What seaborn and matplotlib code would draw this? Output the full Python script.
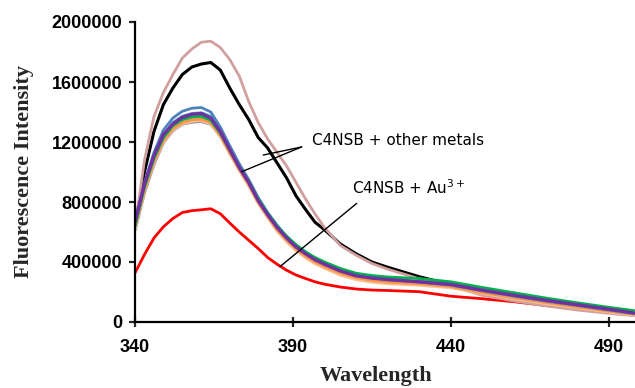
import numpy as np
import pandas as pd
import matplotlib
matplotlib.use("Agg")
import matplotlib.pyplot as plt
import seaborn as sns

wavelength = [340, 343, 346, 349, 352, 355, 358, 361, 364, 367, 370, 373, 376, 379, 382,
              385, 388, 391, 394, 397, 400, 405, 410, 415, 420, 430, 440, 450, 460, 470,
              480, 490, 498]

red_au = [327000, 450000, 560000, 635000, 690000, 730000, 742000, 748000, 755000, 722000,
          660000, 600000, 545000, 490000, 430000, 385000, 345000, 313000, 290000, 268000,
          252000, 233000, 220000, 213000, 210000, 202000, 172000, 155000, 135000, 110000,
          88000, 65000, 48000]

black_c4nsb = [640000, 1000000, 1270000, 1450000, 1560000, 1650000, 1700000, 1720000, 1730000,
               1680000, 1560000, 1450000, 1350000, 1230000, 1160000, 1060000, 960000, 840000,
               750000, 665000, 615000, 520000, 455000, 400000, 365000, 302000, 248000, 205000,
               165000, 128000, 98000, 70000, 52000]

pink_ref = [627000, 1080000, 1370000, 1530000, 1650000, 1760000, 1820000, 1865000, 1872000,
            1830000, 1750000, 1640000, 1470000, 1330000, 1220000, 1130000, 1040000, 930000,
            820000, 720000, 630000, 510000, 445000, 390000, 352000, 288000, 238000, 178000,
            140000, 108000, 80000, 58000, 42000]

lavender = [610000, 860000, 1050000, 1195000, 1275000, 1318000, 1332000, 1336000, 1318000,
            1240000, 1128000, 1018000, 915000, 798000, 702000, 618000, 550000, 492000, 447000,
            408000, 378000, 334000, 303000, 288000, 278000, 263000, 244000, 205000, 170000,
            137000, 107000, 77000, 54000]

olive = [625000, 875000, 1068000, 1210000, 1288000, 1325000, 1340000, 1345000, 1326000,
         1245000, 1132000, 1022000, 920000, 803000, 707000, 622000, 553000, 494000, 450000,
         410000, 380000, 336000, 305000, 290000, 280000, 265000, 247000, 209000, 174000,
         141000, 111000, 81000, 57000]

tan = [620000, 870000, 1060000, 1200000, 1280000, 1320000, 1338000, 1342000, 1320000,
       1235000, 1120000, 1010000, 905000, 790000, 695000, 605000, 535000, 475000, 428000,
       388000, 358000, 312000, 282000, 265000, 255000, 245000, 228000, 190000, 155000,
       122000, 94000, 66000, 46000]

gray = [640000, 895000, 1085000, 1228000, 1305000, 1345000, 1362000, 1365000, 1342000,
        1258000, 1142000, 1030000, 927000, 810000, 713000, 628000, 557000, 498000, 452000,
        412000, 382000, 338000, 306000, 290000, 279000, 264000, 245000, 206000, 171000,
        138000, 108000, 78000, 55000]

teal = [655000, 910000, 1100000, 1245000, 1330000, 1372000, 1390000, 1395000, 1372000,
        1285000, 1165000, 1045000, 940000, 822000, 722000, 638000, 566000, 505000, 458000,
        418000, 387000, 343000, 312000, 296000, 286000, 271000, 252000, 213000, 178000,
        145000, 114000, 84000, 60000]

orange = [630000, 880000, 1070000, 1210000, 1290000, 1330000, 1348000, 1352000, 1330000,
          1245000, 1130000, 1020000, 920000, 800000, 705000, 615000, 545000, 487000, 440000,
          400000, 370000, 325000, 295000, 278000, 266000, 255000, 236000, 196000, 162000,
          130000, 100000, 72000, 52000]

blue = [650000, 930000, 1130000, 1280000, 1360000, 1405000, 1425000, 1430000, 1400000,
        1300000, 1175000, 1055000, 950000, 830000, 730000, 645000, 570000, 510000, 462000,
        420000, 388000, 342000, 310000, 294000, 283000, 266000, 246000, 208000, 173000,
        140000, 110000, 80000, 56000]

green = [640000, 900000, 1090000, 1230000, 1310000, 1350000, 1368000, 1372000, 1345000,
         1260000, 1145000, 1035000, 935000, 820000, 725000, 640000, 572000, 515000, 468000,
         430000, 400000, 357000, 325000, 310000, 300000, 290000, 268000, 230000, 195000,
         160000, 128000, 98000, 76000]

purple = [667000, 920000, 1110000, 1250000, 1320000, 1365000, 1385000, 1390000, 1360000,
          1270000, 1150000, 1030000, 930000, 810000, 715000, 630000, 560000, 500000, 455000,
          415000, 385000, 340000, 308000, 293000, 283000, 268000, 250000, 212000, 178000,
          145000, 115000, 85000, 60000]

series = {
    "red": red_au, "black": black_c4nsb, "pink": pink_ref,
    "lavender": lavender, "olive": olive, "tan": tan, "gray": gray, "teal": teal,
    "orange": orange, "blue": blue, "green": green, "purple": purple,
}
palette = {
    "red": "#FF0000", "black": "#000000", "pink": "#D1A09E",
    "lavender": "#8C7BB5", "olive": "#9BBB59", "tan": "#FAC090", "gray": "#A5A5A5",
    "teal": "#4BACC6", "orange": "#F79646", "blue": "#4F81BD", "green": "#00B050",
    "purple": "#7030A0",
}

frames = [pd.DataFrame({"wl": wavelength, "val": v, "series": k}) for k, v in series.items()]
df = pd.concat(frames, ignore_index=True)

sns.set_theme(style="white")
plt.rcParams["font.family"] = ["Liberation Sans", "DejaVu Sans"]
plt.rcParams["mathtext.default"] = "regular"

fig = plt.figure(figsize=(6.35, 3.88), dpi=100)
ax = fig.add_axes([135 / 635, 1 - 322 / 388, 500 / 635, 300 / 388])

sns.lineplot(data=df, x="wl", y="val", hue="series", hue_order=list(series.keys()),
             palette=palette, estimator=None, sort=False, legend=False,
             linewidth=2.0, ax=ax)
for line in ax.lines:
    c = line.get_color()
    if c == "#7030A0":
        line.set_linewidth(2.4)
    elif c == "#000000":
        line.set_linewidth(2.2)

ax.set_xlim(340, 498.3)
ax.set_ylim(0, 2000000)
ax.set_xticks([340, 390, 440, 490])
ax.set_yticks([0, 400000, 800000, 1200000, 1600000, 2000000])
ax.set_yticklabels(["0", "400000", "800000", "1200000", "1600000", "2000000"])
for lab in ax.get_xticklabels() + ax.get_yticklabels():
    lab.set_fontweight("bold")
    lab.set_fontsize(13)
    lab.set_color("black")

for s in ["top", "right"]:
    ax.spines[s].set_visible(False)
for s in ["left", "bottom"]:
    ax.spines[s].set_linewidth(1.6)
    ax.spines[s].set_color("black")
ax.tick_params(axis="y", direction="out", length=4, width=1.6, pad=5, left=True)
ax.tick_params(axis="x", direction="inout", length=7, width=1.6, pad=9, bottom=True)

ax.set_xlabel("Wavelength", family=["Liberation Serif"], fontweight="bold", fontsize=16)
ax.set_ylabel("Fluorescence Intensity", family=["Liberation Serif"], fontweight="bold", fontsize=16)
ax.xaxis.set_label_coords(0.483, -0.148)
ax.yaxis.set_label_coords(-0.202, 0.5)

txtfam = ["DejaVu Sans"]
ax.text(396, 1213000, "C4NSB + other metals", family=txtfam, fontsize=11,
        va="center", ha="left", color="black")
ax.text(408.7, 893000, "C4NSB + Au$^{3+}$", family=txtfam, fontsize=11,
        va="center", ha="left", color="black")
lp = dict(arrowstyle="-", lw=1.0, color="black", shrinkA=0, shrinkB=0)
ax.annotate("", xy=(380.6, 1113000), xytext=(392.75, 1167000), arrowprops=lp)
ax.annotate("", xy=(373.8, 1002000), xytext=(392.75, 1167000), arrowprops=lp)
ax.annotate("", xy=(385.9, 369000), xytext=(410.2, 791000), arrowprops=lp)

fig.savefig("out.png", dpi=100)
